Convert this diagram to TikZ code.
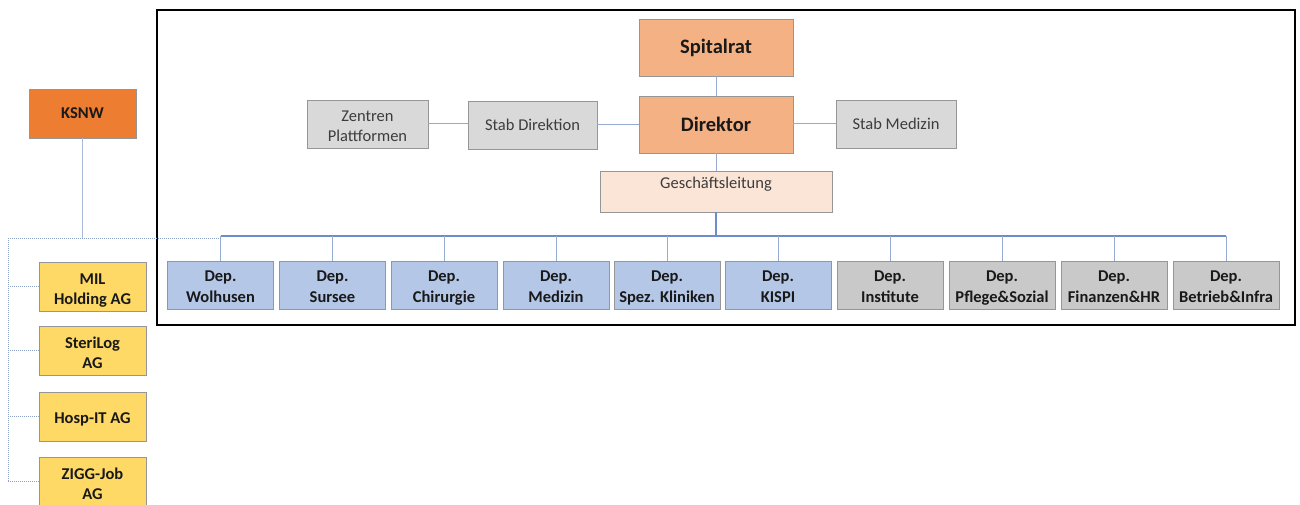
\documentclass[tikz,border=0pt]{standalone}
\usepackage{fontspec}
\setmainfont{Carlito}
\definecolor{lnc}{RGB}{150,170,210}
\definecolor{busc}{RGB}{110,140,200}
\definecolor{dotc}{RGB}{140,160,200}
\definecolor{bdr}{RGB}{150,150,150}
\definecolor{txt}{RGB}{25,25,25}
\definecolor{txtl}{RGB}{60,60,60}
\definecolor{orangeK}{RGB}{237,125,49}
\definecolor{orangeL}{RGB}{244,177,131}
\definecolor{orangeP}{RGB}{251,229,214}
\definecolor{yel}{RGB}{255,217,102}
\definecolor{blu}{RGB}{180,199,231}
\definecolor{gryL}{RGB}{217,217,217}
\definecolor{gryD}{RGB}{201,201,201}
\newcommand{\dept}[1]{\rule{0pt}{20pt}Dep.\\#1\strut}
\newcommand{\twoline}[2]{\rule{0pt}{22pt}#1\\#2\strut}
\tikzset{
  box/.style={draw=bdr, line width=0.9pt, rectangle, align=center, inner sep=0pt, text=txt},
  smallbox/.style={box, minimum width=107pt, minimum height=49pt, font=\fontsize{16.5}{20}\selectfont\bfseries},
  deptbox/.style={box, minimum width=106pt, minimum height=48pt, font=\fontsize{16.5}{20.5}\selectfont\bfseries},
  bigbox/.style={box, fill=orangeL, minimum width=154pt, minimum height=57pt, font=\fontsize{20.5}{24}\selectfont\bfseries},
  stabbox/.style={box, fill=gryL, minimum height=48pt, text=txtl, font=\fontsize{16.5}{19.5}\selectfont},
  conn/.style={draw=lnc, line width=1pt},
  busline/.style={draw=busc, line width=1.2pt},
  dotline/.style={draw=dotc, line width=1pt, dash pattern=on 1pt off 1pt}
}
\begin{document}
\begin{tikzpicture}[x=1pt,y=-1pt]
\useasboundingbox (0,0) rectangle (1300,505);
% frame
\draw[line width=2pt, black] (157,10) rectangle (1295,325);
% top nodes
\node[bigbox] (spit) at (716,47.5) {Spitalrat};
\node[bigbox] (dir) at (716,124.5) {Direktor};
\node[box, fill=orangeP, minimum width=232pt, inner ysep=6pt, text height=12pt, text depth=17pt, text=txtl, font=\fontsize{16.5}{19.5}\selectfont] (gl) at (716,191.5) {Geschäftsleitung};
\node[stabbox, minimum width=121pt] (zen) at (367.5,124) {\rule{0pt}{15pt}Zentren\\Plattformen};
\node[stabbox, minimum width=129pt] (sdir) at (532.5,125) {Stab Direktion};
\node[stabbox, minimum width=120pt] (smed) at (896,124) {Stab Medizin};
% departments
\node[deptbox, fill=blu] (d1) at (220.5,285) {\dept{Wolhusen}};
\node[deptbox, fill=blu] (d2) at (332.5,285) {\dept{Sursee}};
\node[deptbox, fill=blu] (d3) at (444,285) {\dept{Chirurgie}};
\node[deptbox, fill=blu] (d4) at (556,285) {\dept{Medizin}};
\node[deptbox, fill=blu] (d5) at (667,285) {\dept{Spez. Kliniken}};
\node[deptbox, fill=blu] (d6) at (778,285) {\dept{KISPI}};
\node[deptbox, fill=gryD] (d7) at (890,285) {\dept{Institute}};
\node[deptbox, fill=gryD] (d8) at (1002,285) {\dept{Pflege\&Sozial}};
\node[deptbox, fill=gryD] (d9) at (1114,285) {\dept{Finanzen\&HR}};
\node[deptbox, fill=gryD] (d10) at (1226,285) {\dept{Betrieb\&Infra}};
% left column
\node[smallbox, fill=orangeK] (ksnw) at (82.5,113.5) {KSNW};
\node[smallbox, fill=yel] (mil) at (92.5,286.5) {\twoline{MIL}{Holding AG}};
\node[smallbox, fill=yel] (ster) at (92.5,350.5) {\twoline{SteriLog}{AG}};
\node[smallbox, fill=yel] (hosp) at (92.5,416.5) {\rule{0pt}{16pt}Hosp-IT AG};
\node[smallbox, fill=yel] (zigg) at (92.5,481.5) {\twoline{ZIGG-Job}{AG}};
% connectors top
\draw[conn] (spit) -- (dir);
\draw[conn] (zen) -- (zen -| sdir.west);
\draw[conn] (sdir.east) -- (sdir.east -| dir.west);
\draw[conn] (dir.east |- smed) -- (smed);
\draw[conn] (dir) -- (gl);
\coordinate (bus) at (716,236);
\draw[busline] (gl.south) -- (bus);
\draw[busline] (d1.north |- bus) -- (d10.north |- bus);
\foreach \d in {d1,d2,d3,d4,d5,d6,d7,d8,d9,d10}
  \draw[conn] (\d.north) -- (\d.north |- bus);
% left connectors
\coordinate (kj) at (82.5,238);
\coordinate (lt) at (8,238);
\draw[conn, draw=lnc!80] (ksnw.south) -- (kj);
\draw[dotline] (lt) -- (d1.north |- kj);
\draw[dotline] (lt) -- (lt |- zigg);
\foreach \n in {mil,ster,hosp,zigg}
  \draw[dotline] (lt |- \n) -- (\n.west);
\end{tikzpicture}
\end{document}
